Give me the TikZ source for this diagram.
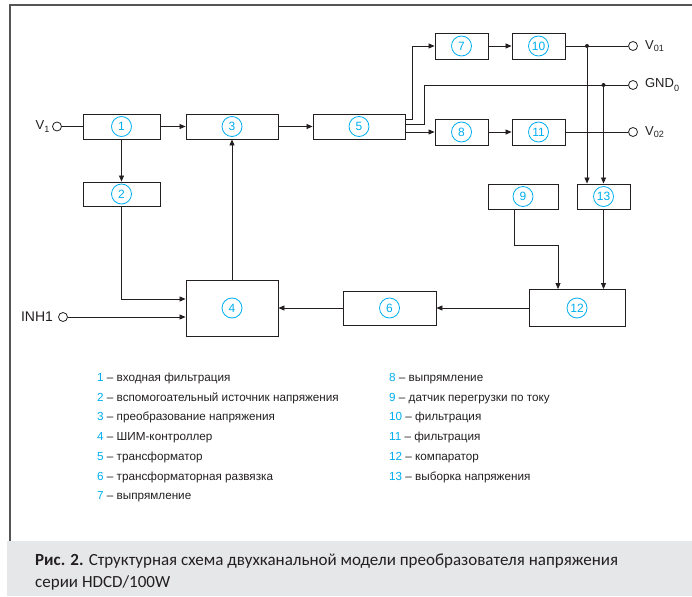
\documentclass[tikz,border=0pt]{standalone}
\usepackage{fontspec}
\setmainfont{Liberation Sans}
\newfontfamily\capfont{Carlito}
\usetikzlibrary{arrows.meta}
\definecolor{ink}{RGB}{35,31,32}
\definecolor{numblue}{RGB}{0,174,239}
\definecolor{band}{RGB}{230,231,232}
\definecolor{rule}{RGB}{85,85,85}
\tikzset{
  blk/.style={draw=ink, line width=0.9pt, inner sep=0pt, text=numblue,
    font=\fontsize{12}{12}\selectfont,
    path picture={\draw[numblue, line width=0.8pt] (path picture bounding box.center) circle (10pt);}},
  term/.style={circle, draw=ink, line width=0.8pt, fill=white, inner sep=0pt, minimum size=9pt},
  lbl/.style={font=\fontsize{13}{13}\selectfont, text=ink, inner sep=0pt},
  leg/.style={anchor=base west, font=\fontsize{11.7}{12}\selectfont, text=ink, inner sep=0pt},
  conn/.style={draw=ink, line width=0.8pt},
  arr/.style={conn, -{Triangle[length=6pt,width=5pt]}},
  dot/.style={circle, fill=ink, inner sep=0pt, minimum size=4pt}
}
\begin{document}
\begin{tikzpicture}[x=1pt, y=-1pt]
  \useasboundingbox (0,0) rectangle (692,596);
  % frame and caption band
  \fill[band] (7,541) rectangle (692,596);
  \draw[rule, line width=1.2pt] (10,541) -- (10,5) -- (692,5);
  % blocks
  \node[blk, minimum width=77pt, minimum height=25pt] (b1) at (121.5,126.5) {1};
  \node[blk, minimum width=77pt, minimum height=24pt] (b2) at (121.5,194) {2};
  \node[blk, minimum width=92pt, minimum height=25pt] (b3) at (232,126.5) {3};
  \node[blk, minimum width=92pt, minimum height=56pt] (b4) at (232,308) {4};
  \node[blk, minimum width=92pt, minimum height=25pt] (b5) at (359,126.5) {5};
  \node[blk, minimum width=93pt, minimum height=34pt] (b6) at (389.5,308) {6};
  \node[blk, minimum width=53pt, minimum height=26pt] (b7) at (461.5,46) {7};
  \node[blk, minimum width=53pt, minimum height=26pt] (b8) at (461.5,132) {8};
  \node[blk, minimum width=70pt, minimum height=25pt] (b9) at (523,196.5) {9};
  \node[blk, minimum width=53pt, minimum height=26pt] (b10) at (538.5,46) {10};
  \node[blk, minimum width=53pt, minimum height=26pt] (b11) at (538.5,132) {11};
  \node[blk, minimum width=96pt, minimum height=37pt] (b12) at (577,308) {12};
  \node[blk, minimum width=53pt, minimum height=25pt] (b13) at (603.5,196.5) {13};
  % terminals
  \node[term] (tV1) at (57,126.5) {};
  \node[term] (tINH) at (63,317) {};
  \node[term] (tV01) at (633,46) {};
  \node[term] (tGND) at (633,85) {};
  \node[term] (tV02) at (633,132) {};
  \node[lbl, anchor=east, xshift=-2pt] (lV1) at (tV1.west) {V\textsubscript{1}};
  \node[lbl, anchor=east, xshift=-5pt, font=\fontsize{14}{14}\selectfont] (lINH) at (tINH.west) {INH1};
  \node[lbl, anchor=west, xshift=7pt] (lV01) at (tV01.east) {V\textsubscript{01}};
  \node[lbl, anchor=west, xshift=7pt] (lGND) at (tGND.east) {GND\raisebox{-0.25ex}{\textsubscript{0}}};
  \node[lbl, anchor=west, xshift=7pt] (lV02) at (tV02.east) {V\textsubscript{02}};
  % connectors
  \draw[conn] (tV1.east) -- (b1.west);
  \draw[arr] (b1.east) -- (b3.west);
  \draw[arr] (b3.east) -- (b5.west);
  \draw[arr] (b1.south) -- (b2.north);
  \draw[arr] (b2.south) |- ([yshift=9pt]b4.west);
  \draw[arr] (tINH.east) -- (tINH.east -| b4.west);
  \draw[arr] (b4.north) -- (b3.south);
  \draw[arr] (b12.west) -- (b6.east);
  \draw[arr] (b6.west) -- (b4.east);
  \draw[arr] ([yshift=7.5pt]b5.east) -- ++(7,0) |- (b7.west);
  \draw[conn] ([yshift=2.5pt]b5.east) -- ++(19,0) |- (tGND.west);
  \draw[arr] (b5.east |- b8.west) -- (b8.west);
  \draw[arr] (b7.east) -- (b10.west);
  \draw[arr] (b8.east) -- (b11.west);
  \draw[conn] (b10.east) -- (tV01.west);
  \draw[conn] (b11.east) -- (tV02.west);
  \node[dot] (j1) at (587,46) {};
  \node[dot] (j2) at (b13.north |- tGND) {};
  \draw[arr] (j1) -- (j1 |- b13.north);
  \draw[arr] (j2) -- (b13.north);
  \draw[arr] (b13.south) -- (b13.south |- b12.north);
  \draw[arr] ([xshift=-9pt]b9.south) -- ++(0,36) -| ([xshift=-19pt]b12.north);
  % legend
  \node[leg] (k1) at (97,381) {\textcolor{numblue}{1} – входная фильтрация};
  \node[leg] (k2) at (97,401) {\textcolor{numblue}{2} – вспомогоательный источник напряжения};
  \node[leg] (k3) at (97,420.5) {\textcolor{numblue}{3} – преобразование напряжения};
  \node[leg] (k4) at (97,440.5) {\textcolor{numblue}{4} – ШИМ-контроллер};
  \node[leg] (k5) at (97,460) {\textcolor{numblue}{5} – трансформатор};
  \node[leg] (k6) at (97,480) {\textcolor{numblue}{6} – трансформаторная развязка};
  \node[leg] (k7) at (97,499.5) {\textcolor{numblue}{7} – выпрямление};
  \node[leg] (k8) at (389,381) {\textcolor{numblue}{8} – выпрямление};
  \node[leg] (k9) at (389,401) {\textcolor{numblue}{9} – датчик перегрузки по току};
  \node[leg] (k10) at (389,420.5) {\textcolor{numblue}{10} – фильтрация};
  \node[leg] (k11) at (389,440.5) {\textcolor{numblue}{11} – фильтрация};
  \node[leg] (k12) at (389,460) {\textcolor{numblue}{12} – компаратор};
  \node[leg] (k13) at (389,480) {\textcolor{numblue}{13} – выборка напряжения};
  % caption
  \node[anchor=base west, inner sep=0pt, text=ink, font=\capfont\fontsize{17}{17}\selectfont] (cap1) at (35,565)
    {\textbf{Рис. 2.} Структурная схема двухканальной модели преобразователя напряжения};
  \node[anchor=base west, inner sep=0pt, text=ink, font=\capfont\fontsize{17}{17}\selectfont] (cap2) at (35,587)
    {серии HDCD/100W};
\end{tikzpicture}
\end{document}
